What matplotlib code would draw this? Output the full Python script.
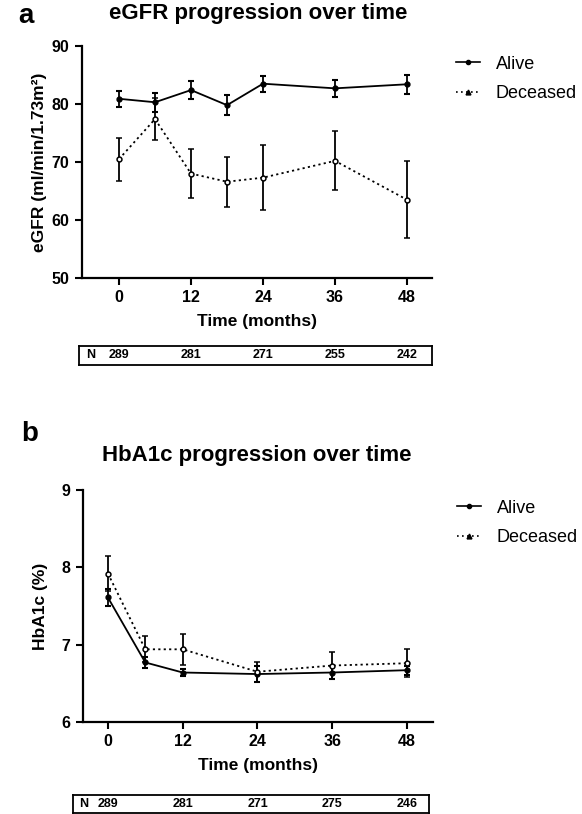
import matplotlib
matplotlib.use('Agg')
import matplotlib.pyplot as plt
from matplotlib.lines import Line2D

plt.rcParams['font.family'] = ['Liberation Sans', 'DejaVu Sans']

# panel a: eGFR
months_a = [0, 6, 12, 18, 24, 36, 48]
egfr_alive = [80.9, 80.3, 82.4, 79.8, 83.5, 82.7, 83.4]
egfr_alive_err = [1.4, 1.6, 1.5, 1.7, 1.4, 1.5, 1.6]
egfr_dec = [70.5, 77.4, 68.0, 66.6, 67.3, 70.2, 63.5]
egfr_dec_err = [3.7, 3.6, 4.2, 4.3, 5.6, 5.1, 6.6]

# panel b: HbA1c
months_b = [0, 6, 12, 24, 36, 48]
hba_alive = [7.61, 6.77, 6.64, 6.62, 6.64, 6.67]
hba_alive_err = [0.11, 0.07, 0.05, 0.10, 0.08, 0.06]
hba_dec = [7.92, 6.94, 6.94, 6.65, 6.73, 6.76]
hba_dec_err = [0.23, 0.17, 0.20, 0.13, 0.18, 0.18]

# number at risk
n_months = [0, 12, 24, 36, 48]
n_egfr = [289, 281, 271, 255, 242]
n_hba = [289, 281, 271, 275, 246]

W, H = 582, 814


def fbox(x0, y0, x1, y1):
    # pixel box (top-left origin) -> figure fraction rect
    return [x0 / W, 1 - y1 / H, (x1 - x0) / W, (y1 - y0) / H]


def panel(ax, x, alive, alive_err, dec, dec_err, ylim, yticks, xlim, ylabel):
    ax.errorbar(x, alive, yerr=alive_err, color='black', lw=1.3, ls='-',
                marker='o', ms=3.5, mfc='black', elinewidth=1.3,
                capsize=2, capthick=1.5, zorder=3)
    ax.errorbar(x, dec, yerr=dec_err, color='black', lw=1.3, ls=(0, (1.2, 1.8)),
                marker='o', ms=3.5, mfc='white', mew=1.1, elinewidth=1.3,
                capsize=2, capthick=1.5, zorder=3)
    ax.set_xlim(*xlim)
    ax.set_ylim(*ylim)
    ax.set_xticks(n_months)
    ax.set_yticks(yticks)
    for s in ['top', 'right']:
        ax.spines[s].set_visible(False)
    for s in ['left', 'bottom']:
        ax.spines[s].set_linewidth(1.6)
    ax.tick_params(width=1.5, length=5, labelsize=11.5, pad=4)
    for lbl in ax.get_xticklabels() + ax.get_yticklabels():
        lbl.set_fontweight('bold')
    ax.set_xlabel('Time (months)', fontsize=12.5, fontweight='bold', labelpad=6)
    ax.set_ylabel(ylabel, fontsize=12.5, fontweight='bold')
    ax.yaxis.set_label_coords(-0.1, 0.5)

    handles = [
        Line2D([], [], color='black', lw=1.2, marker='o', ms=3),
        Line2D([], [], color='black', lw=1.2, ls=(0, (1, 2)), marker='^', ms=3.5),
    ]
    ax.legend(handles, ['Alive', 'Deceased'], loc='upper left',
              bbox_to_anchor=(1.069, 0.958), frameon=False, fontsize=13,
              borderpad=0, borderaxespad=0, handlelength=1.3,
              handletextpad=0.9, labelspacing=0.7)


def n_table(rect, xlim, n_vals, n_x):
    tax = fig.add_axes(rect)
    tax.set_xlim(*xlim)
    tax.set_ylim(0, 1)
    tax.set_xticks([])
    tax.set_yticks([])
    for s in tax.spines.values():
        s.set_linewidth(1.3)
    tax.text(n_x, 0.5, 'N', ha='center', va='center', fontsize=9, fontweight='bold')
    for m, n in zip(n_months, n_vals):
        tax.text(m, 0.5, str(n), ha='center', va='center', fontsize=9, fontweight='bold')


fig = plt.figure(figsize=(W / 100, H / 100), dpi=100)

ax_a = fig.add_axes(fbox(82, 46, 432, 278))
panel(ax_a, months_a, egfr_alive, egfr_alive_err, egfr_dec, egfr_dec_err,
      (50, 90), [50, 60, 70, 80, 90], (-6.17, 52.17), 'eGFR (ml/min/1.73m²)')
n_table(fbox(79, 346, 432, 365), (-6.67, 52.17), n_egfr, -4.8)

ax_b = fig.add_axes(fbox(83, 490, 433, 722))
panel(ax_b, months_b, hba_alive, hba_alive_err, hba_dec, hba_dec_err,
      (6, 9), [6, 7, 8, 9], (-4.0, 52.2), 'HbA1c (%)')
n_table(fbox(73, 795, 429, 813), (-5.6, 51.5), n_hba, -3.9)

fig.text(26 / W, 1 - 16 / H, 'a', fontsize=20, fontweight='bold', ha='center', va='center')
fig.text(258 / W, 1 - 13 / H, 'eGFR progression over time', fontsize=16,
         fontweight='bold', ha='center', va='center')
fig.text(30 / W, 1 - 434 / H, 'b', fontsize=20, fontweight='bold', ha='center', va='center')
fig.text(257 / W, 1 - 456 / H, 'HbA1c progression over time', fontsize=16,
         fontweight='bold', ha='center', va='center')

fig.savefig('out.png', dpi=100)
